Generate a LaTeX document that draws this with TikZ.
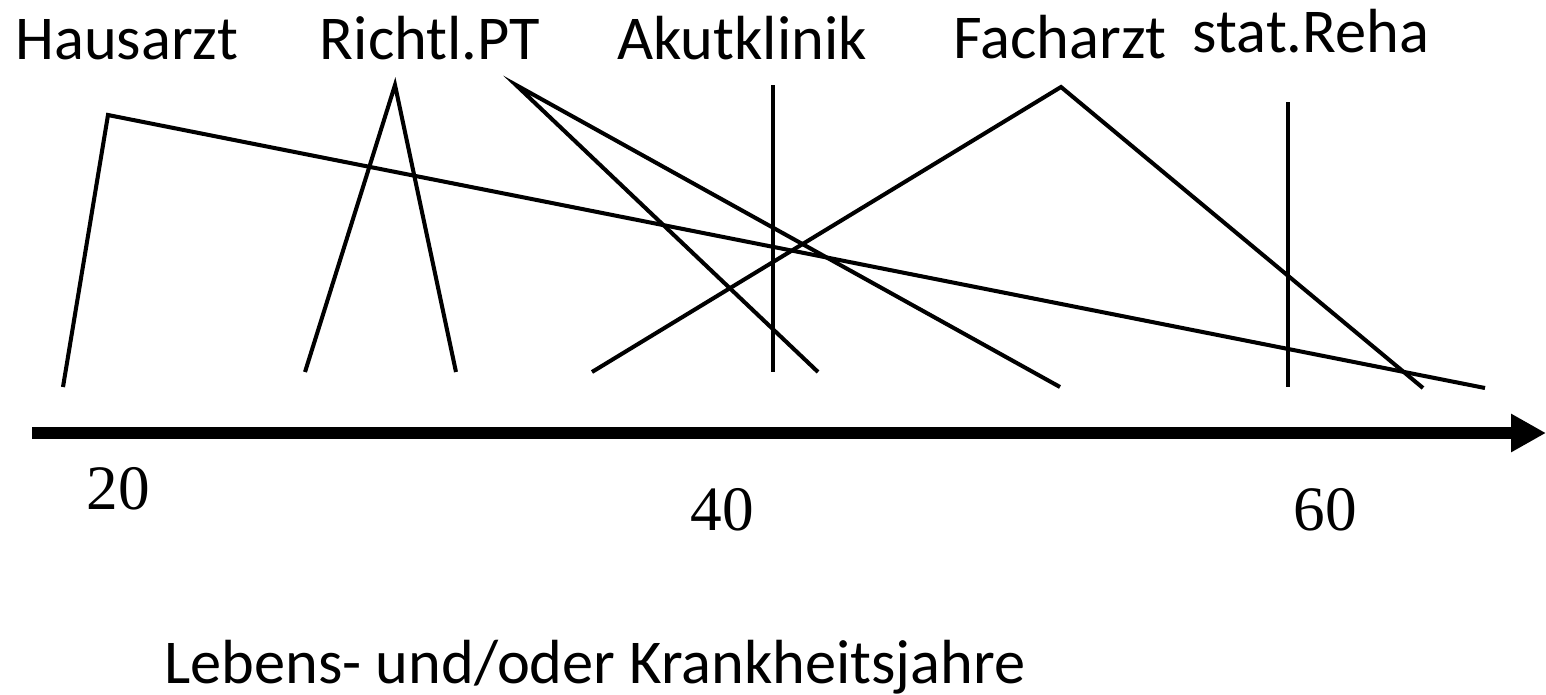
\documentclass[tikz,border=0pt]{standalone}
\usepackage{fontspec}
\setmainfont{Carlito}
\newfontfamily\numfont{Liberation Serif}
\usetikzlibrary{arrows.meta}
\begin{document}
\begin{tikzpicture}[x=0.02cm,y=-0.02cm,
  lbl/.style={anchor=base,inner sep=0pt,font=\fontsize{35.5pt}{40pt}\selectfont},
  num/.style={anchor=base,inner sep=0pt,font=\numfont\fontsize{36pt}{40pt}\selectfont},
  ln/.style={line width=2.3pt,line join=miter},
  axis/.style={line width=6.8pt,-{Triangle[length=19.8pt,width=20.4pt]}}]
\useasboundingbox (0,0) rectangle (1546,694);
% labels
\node[lbl] (hausarzt) at (127,59) {Hausarzt};
\node[lbl] (richtl) at (430,59) {Richtl.PT};
\node[lbl] (akut) at (742,59) {Akutklinik};
\node[lbl] (fach) at (1060,58) {Facharzt};
\node[lbl] (reha) at (1311,52) {stat.Reha};
\node[lbl] (xlabel) at (595,683) {Lebens- und/oder Krankheitsjahre};
\node[num] (n20) at (118,509) {20};
\node[num] (n40) at (722,530) {40};
\node[num] (n60) at (1325,530) {60};
% coordinates
\coordinate (h1) at (63,387);
\coordinate (h2) at (108,115);
\coordinate (h3) at (1485,388);
\coordinate (r1) at (305,372);
\coordinate (r2) at (395,85);
\coordinate (r3) at (456,372);
\coordinate (p0) at (516,85);
\coordinate (p1) at (818,372);
\coordinate (p2) at (1060,387);
\coordinate (a1) at (773,85);
\coordinate (a2) at (773,372);
\coordinate (f1) at (592,372);
\coordinate (f2) at (1061,87);
\coordinate (f3) at (1423,388);
\coordinate (s1) at (1288,102);
\coordinate (s2) at (1288,387);
\coordinate (ax0) at (32,433);
\coordinate (ax1) at (1546,433);
% lines
\draw[ln] (h1) -- (h2) -- (h3);
\draw[ln] (r1) -- (r2) -- (r3);
\draw[ln] (p1) -- (p0) -- (p2);
\draw[ln] (a1) -- (a2);
\draw[ln] (f1) -- (f2) -- (f3);
\draw[ln] (s1) -- (s2);
\draw[axis] (ax0) -- (ax1);
\end{tikzpicture}
\end{document}
